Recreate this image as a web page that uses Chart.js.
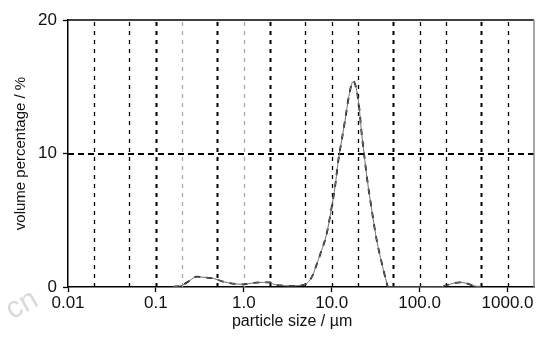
<!DOCTYPE html>
<html>
<head>
<meta charset="utf-8">
<script src="https://cdn.jsdelivr.net/npm/chart.js@4.4.1/dist/chart.umd.min.js"></script>
<style>
  html, body { margin: 0; padding: 0; background: #fff; }
  #wrap { width: 541px; height: 340px; }
</style>
</head>
<body>
<div id="wrap"><canvas id="psd" width="541" height="340"></canvas></div>
<script>
// particle size (µm) and volume percentage
const sizes = [0.156, 0.202, 0.244, 0.291, 0.379, 0.447, 0.58, 0.98, 1.28, 1.67, 2.0, 2.15, 2.85, 3.4, 4.0, 5.0,
               5.7, 6.18, 6.75, 7.36, 8.77, 10.0, 10.9, 11.9, 13.0, 14.2, 15.9, 17.6, 19.2, 20.5, 21.9, 23.3, 25.4,
               28.5, 32.5, 37.1, 42.3, 43.7, 170, 200, 250, 288, 350, 407, 500];
const volume = [0, 0.15, 0.5, 0.77, 0.7, 0.65, 0.4, 0.2, 0.3, 0.35, 0.35, 0.22, 0.1, 0.08, 0.1, 0.2,
                0.55, 1.0, 1.7, 2.4, 4.0, 6.0, 7.5, 9.5, 11.0, 12.5, 14.5, 15.4, 14.75, 13.5, 11.5, 10.0, 8.0,
                5.8, 3.5, 1.8, 0.3, 0, 0, 0.12, 0.3, 0.35, 0.25, 0.1, 0];

const xTicks = [0.01, 0.1, 1, 10, 100, 1000];
const xTickLabels = ["0.01", "0.1", "1.0", "10.0", "100.0", "1000.0"];
const yTicks = [0, 10, 20];
const xGrid = [0.02, 0.05, 0.1, 0.2, 0.5, 1, 2, 5, 10, 20, 50, 100, 200, 500, 1000];
const yGrid = [10];

const points = sizes.map((s, i) => ({ x: s, y: volume[i] }));

// dashed grid + top/right frame, positioned through the chart's scales
const gridPlugin = {
    id: "dashedGrid",
    beforeDatasetsDraw(chart) {
        const ctx = chart.ctx;
        const area = chart.chartArea;
        const xs = chart.scales.x;
        const ys = chart.scales.y;
        ctx.save();
        xGrid.forEach(v => {
            const px = Math.round(xs.getPixelForValue(v)) + 0.5;
            const faint = (v === 0.2 || v === 1);
            const heavy = [0.1, 0.5, 2, 50, 500].includes(v);
            ctx.strokeStyle = faint ? "#a8a8a8" : "#000";
            ctx.lineWidth = heavy ? 2 : 1.3;
            ctx.setLineDash([4, 5]);
            ctx.beginPath();
            ctx.moveTo(px, area.top + 2);
            ctx.lineTo(px, area.bottom);
            ctx.stroke();
        });
        yGrid.forEach(v => {
            const py = Math.round(ys.getPixelForValue(v));
            ctx.strokeStyle = "#000";
            ctx.lineWidth = 2;
            ctx.setLineDash([6, 4]);
            ctx.beginPath();
            ctx.moveTo(area.left, py);
            ctx.lineTo(area.right, py);
            ctx.stroke();
        });
        ctx.setLineDash([]);
        ctx.strokeStyle = "#000";
        ctx.lineWidth = 1.5;
        ctx.beginPath();
        ctx.moveTo(area.left, area.top);
        ctx.lineTo(area.right, area.top);
        ctx.stroke();
        ctx.strokeStyle = "#888";
        ctx.beginPath();
        ctx.moveTo(area.right, area.top);
        ctx.lineTo(area.right, area.bottom);
        ctx.stroke();
        ctx.restore();
    },
    afterDraw(chart) {
        // faint leftover watermark in the lower left corner
        const ctx = chart.ctx;
        ctx.save();
        ctx.translate(22, 305);
        ctx.rotate(-0.5);
        ctx.fillStyle = "#dadada";
        ctx.font = "30px 'Liberation Sans'";
        ctx.textAlign = "center";
        ctx.textBaseline = "middle";
        ctx.fillText("cn", 0, 0);
        ctx.restore();
    }
};

const tickFont = { family: "'Liberation Sans Narrow', 'Arial Narrow', sans-serif", size: 17 };

new Chart(document.getElementById("psd").getContext("2d"), {
    type: "line",
    data: {
        datasets: [
            {
                data: points,
                borderColor: "#707070",
                borderWidth: 1,
                pointRadius: 0,
                cubicInterpolationMode: "monotone"
            },
            {
                data: points,
                borderColor: "#000",
                borderWidth: 1.8,
                borderDash: [6, 6],
                pointRadius: 0,
                cubicInterpolationMode: "monotone"
            }
        ]
    },
    options: {
        responsive: false,
        animation: false,
        layout: { padding: { top: 20, right: 7, left: 0, bottom: 0 } },
        plugins: { legend: { display: false }, tooltip: { enabled: false } },
        scales: {
            x: {
                type: "logarithmic",
                min: 0.01,
                max: 2000,
                afterBuildTicks: scale => { scale.ticks = xTicks.map(v => ({ value: v })); },
                afterFit: scale => { scale.height = 53; },
                ticks: {
                    autoSkip: false,
                    maxRotation: 0,
                    padding: 1,
                    color: "#111",
                    font: tickFont,
                    callback: (v, i) => xTickLabels[i]
                },
                grid: { drawOnChartArea: false, drawTicks: true, tickLength: 5, color: "#000", tickWidth: 1.3 },
                border: { color: "#000", width: 1.5 },
                title: {
                    display: true,
                    text: "particle size / µm    ",
                    color: "#111",
                    font: { family: "'Liberation Sans', Arial, sans-serif", size: 16 },
                    padding: { top: 0, bottom: 9 }
                }
            },
            y: {
                min: 0,
                max: 20,
                afterBuildTicks: scale => { scale.ticks = yTicks.map(v => ({ value: v })); },
                afterFit: scale => { scale.width = 68; },
                ticks: { padding: 6, color: "#111", font: tickFont },
                grid: { drawOnChartArea: false, drawTicks: true, tickLength: 5, color: "#000", tickWidth: 1.3 },
                border: { color: "#000", width: 1.5 },
                title: {
                    display: true,
                    text: "volume percentage / %",
                    color: "#111",
                    font: { family: "'Liberation Sans', Arial, sans-serif", size: 15 },
                    padding: { top: 12, bottom: 0 }
                }
            }
        }
    },
    plugins: [gridPlugin]
});
</script>
</body>
</html>
